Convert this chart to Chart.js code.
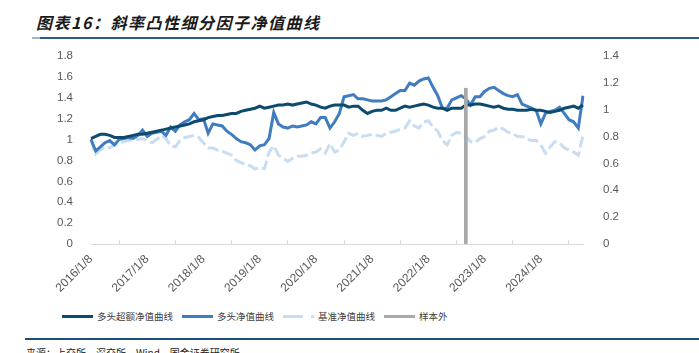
<!DOCTYPE html>
<html>
<head>
<meta charset="utf-8">
<script src="https://cdn.jsdelivr.net/npm/chart.js@4.4.1/dist/chart.umd.min.js"></script>
<style>
  body { margin: 0; width: 699px; height: 353px; background: #fff; position: relative; overflow: hidden;
         font-family: "Noto Sans CJK SC", "Liberation Sans", sans-serif; }
  #title { position: absolute; left: 36px; top: 10px; font-size: 16px; font-weight: bold; font-style: italic;
           letter-spacing: 1.5px; color: #1a1a1a; white-space: nowrap; }
  .rule { position: absolute; height: 2px; background: #2f5a84; }
  #chartBox { position: absolute; left: 0; top: 0; width: 699px; height: 300px; }
  #legend { position: absolute; left: 62px; top: 309px; display: flex; align-items: center;
            font-size: 9.5px; color: #404040; white-space: nowrap; }
  #legend .sw { width: 31px; height: 3px; margin-right: 4px; }
  #legend .item { display: flex; align-items: center; margin-right: 9px; }
  #source { position: absolute; left: 26px; top: 345px; font-size: 10px; color: #222; white-space: nowrap; }
</style>
</head>
<body>
<div id="title">图表16：斜率凸性细分因子净值曲线</div>
<div class="rule" style="left:32px; top:37px; width:8px; background:#9fb3c6;"></div>
<div class="rule" style="left:40px; top:37px; width:659px;"></div>
<div id="chartBox"><canvas id="navChart"></canvas></div>
<div id="legend"></div>
<div class="rule" style="left:25px; top:338px; width:674px; background:#1f4e79;"></div>
<div id="source">来源：上交所，深交所，Wind，国金证券研究所</div>

<script>
// 月度日期（2016/1/8 ~ 2024/10/8）
const dates = [];
for (let y = 2016; y <= 2024; y++) {
  for (let m = 1; m <= 12; m++) {
    if (y === 2024 && m > 10) break;
    dates.push(y + '/' + m + '/8');
  }
}

// 多头超额净值曲线
const excessNav = [
  1.01, 1.03, 1.05, 1.05, 1.04, 1.02, 1.02, 1.02, 1.03, 1.04, 1.05, 1.05,
  1.06, 1.07, 1.08, 1.09, 1.10, 1.11, 1.12, 1.13, 1.14, 1.15, 1.17, 1.18,
  1.19, 1.21, 1.22, 1.23, 1.23, 1.24, 1.25, 1.25, 1.27, 1.28, 1.29, 1.30,
  1.32, 1.30, 1.31, 1.32, 1.33, 1.33, 1.34, 1.33, 1.34, 1.35, 1.36, 1.34,
  1.33, 1.31, 1.30, 1.32, 1.33, 1.33, 1.33, 1.31, 1.32, 1.32, 1.28, 1.25,
  1.27, 1.28, 1.28, 1.30, 1.28, 1.28, 1.30, 1.32, 1.31, 1.32, 1.33, 1.34,
  1.33, 1.31, 1.30, 1.30, 1.28, 1.30, 1.30, 1.30, 1.33, 1.33, 1.34, 1.34,
  1.33, 1.32, 1.31, 1.32, 1.30, 1.29, 1.29, 1.28, 1.28, 1.28, 1.29, 1.28,
  1.28, 1.27, 1.26, 1.27, 1.28, 1.30, 1.31, 1.32, 1.30, 1.33
];

// 多头净值曲线
const longNav = [
  1.00, 0.89, 0.93, 0.97, 0.99, 0.95, 1.00, 1.01, 1.02, 1.01, 1.04, 1.09,
  1.03, 1.06, 1.07, 1.08, 1.04, 1.12, 1.08, 1.14, 1.17, 1.19, 1.25, 1.19,
  1.20, 1.06, 1.15, 1.14, 1.13, 1.08, 1.05, 1.01, 0.98, 0.97, 0.95, 0.90,
  0.94, 0.95, 1.01, 1.26, 1.15, 1.12, 1.11, 1.13, 1.12, 1.13, 1.14, 1.17,
  1.15, 1.21, 1.21, 1.11, 1.17, 1.25, 1.41, 1.42, 1.43, 1.39, 1.39, 1.38,
  1.37, 1.37, 1.37, 1.38, 1.41, 1.44, 1.47, 1.47, 1.54, 1.52, 1.56, 1.58,
  1.59, 1.50, 1.42, 1.30, 1.30, 1.38, 1.40, 1.42, 1.39, 1.33, 1.41, 1.41,
  1.46, 1.49, 1.50, 1.47, 1.44, 1.42, 1.41, 1.43, 1.34, 1.32, 1.30, 1.28,
  1.15, 1.25, 1.27, 1.28, 1.31, 1.25, 1.19, 1.17, 1.11, 1.42
];

// 基准净值曲线
const benchNav = [
  1.00, 0.86, 0.90, 0.93, 0.92, 0.95, 0.96, 0.98, 0.99, 1.00, 1.00, 1.01,
  0.99, 0.97, 1.00, 1.04, 1.01, 0.94, 0.93, 0.99, 1.02, 1.03, 1.04, 1.02,
  0.97, 0.92, 0.92, 0.90, 0.89, 0.87, 0.85, 0.80, 0.78, 0.76, 0.75, 0.72,
  0.73, 0.72, 0.88, 0.94, 0.85, 0.82, 0.79, 0.82, 0.84, 0.84, 0.85, 0.87,
  0.88, 0.91, 0.87, 0.96, 0.88, 0.90, 0.98, 1.06, 1.04, 1.06, 1.03, 1.04,
  1.05, 1.04, 1.03, 1.06, 1.07, 1.08, 1.10, 1.11, 1.18, 1.13, 1.11, 1.17,
  1.18, 1.12, 1.08, 0.99, 0.95, 1.04, 1.07, 1.06, 1.03, 0.98, 0.97, 1.01,
  1.03, 1.08, 1.09, 1.12, 1.10, 1.07, 1.06, 1.03, 1.03, 1.01, 0.99, 0.99,
  0.95, 0.87, 0.93, 0.98, 0.97, 0.92, 0.90, 0.88, 0.85, 1.04
];

// 样本外起点（右轴）
const oosDate = '2022/9/8';
const oosHeight = 1.16;
const oosData = dates.map(d => d === oosDate ? oosHeight : null);

const colors = { excess: '#0c4a6e', long: '#3f7dc0', bench: '#c8ddf1', oos: '#a9a9a9' };
const yFont = { family: 'Liberation Sans', size: 11.5 };
const xFont = { family: 'Liberation Sans', size: 12 };
const fmt = v => String(+v.toFixed(1));

new Chart(document.getElementById('navChart').getContext('2d'), {
  data: {
    labels: dates,
    datasets: [
      { type: 'bar', label: '样本外', data: oosData, yAxisID: 'y1', backgroundColor: colors.oos,
        barThickness: 3, order: 0 },
      { type: 'line', label: '多头超额净值曲线', data: excessNav, yAxisID: 'y', borderColor: colors.excess,
        borderWidth: 3, pointRadius: 0, tension: 0, order: 1 },
      { type: 'line', label: '多头净值曲线', data: longNav, yAxisID: 'y', borderColor: colors.long,
        borderWidth: 3, pointRadius: 0, tension: 0, order: 2 },
      { type: 'line', label: '基准净值曲线', data: benchNav, yAxisID: 'y', borderColor: colors.bench,
        borderWidth: 3, borderDash: [11, 4], pointRadius: 0, tension: 0, order: 3 }
    ]
  },
  options: {
    responsive: true,
    maintainAspectRatio: false,
    animation: false,
    layout: { padding: { top: 56, left: 0, right: 0, bottom: 0 } },
    plugins: { legend: { display: false }, tooltip: { enabled: false } },
    scales: {
      x: {
        type: 'category',
        offset: false,
        grid: { drawOnChartArea: false, tickLength: -4, color: '#d9d9d9' },
        border: { color: '#d9d9d9' },
        ticks: {
          autoSkip: false, minRotation: 45, maxRotation: 45, padding: 12,
          color: '#595959', font: xFont,
          callback: function (v) {
            const l = this.getLabelForValue(v);
            return l.endsWith('/1/8') ? l : null;
          }
        },
        afterFit: s => { s.height = 56; }
      },
      y: {
        position: 'left', min: 0, max: 1.8,
        grid: { display: false }, border: { display: false },
        ticks: { stepSize: 0.2, padding: 10, color: '#595959', font: yFont, callback: fmt },
        afterFit: s => { s.width = 91; }
      },
      y1: {
        position: 'right', min: 0, max: 1.4,
        grid: { display: false }, border: { display: false },
        ticks: { stepSize: 0.2, padding: 12, color: '#595959', font: yFont, callback: fmt },
        afterFit: s => { s.width = 116; }
      }
    }
  }
});

// 图例
const legendItems = [
  { name: '多头超额净值曲线', bg: colors.excess },
  { name: '多头净值曲线', bg: colors.long },
  { name: '基准净值曲线', bg: 'linear-gradient(to right, ' + colors.bench + ' 0 20px, transparent 20px 28px, ' + colors.bench + ' 28px 31px)' },
  { name: '样本外', bg: colors.oos }
];
const legendEl = document.getElementById('legend');
legendItems.forEach(item => {
  const el = document.createElement('div');
  el.className = 'item';
  el.innerHTML = '<div class="sw" style="background:' + item.bg + '"></div><span>' + item.name + '</span>';
  legendEl.appendChild(el);
});
</script>
</body>
</html>
